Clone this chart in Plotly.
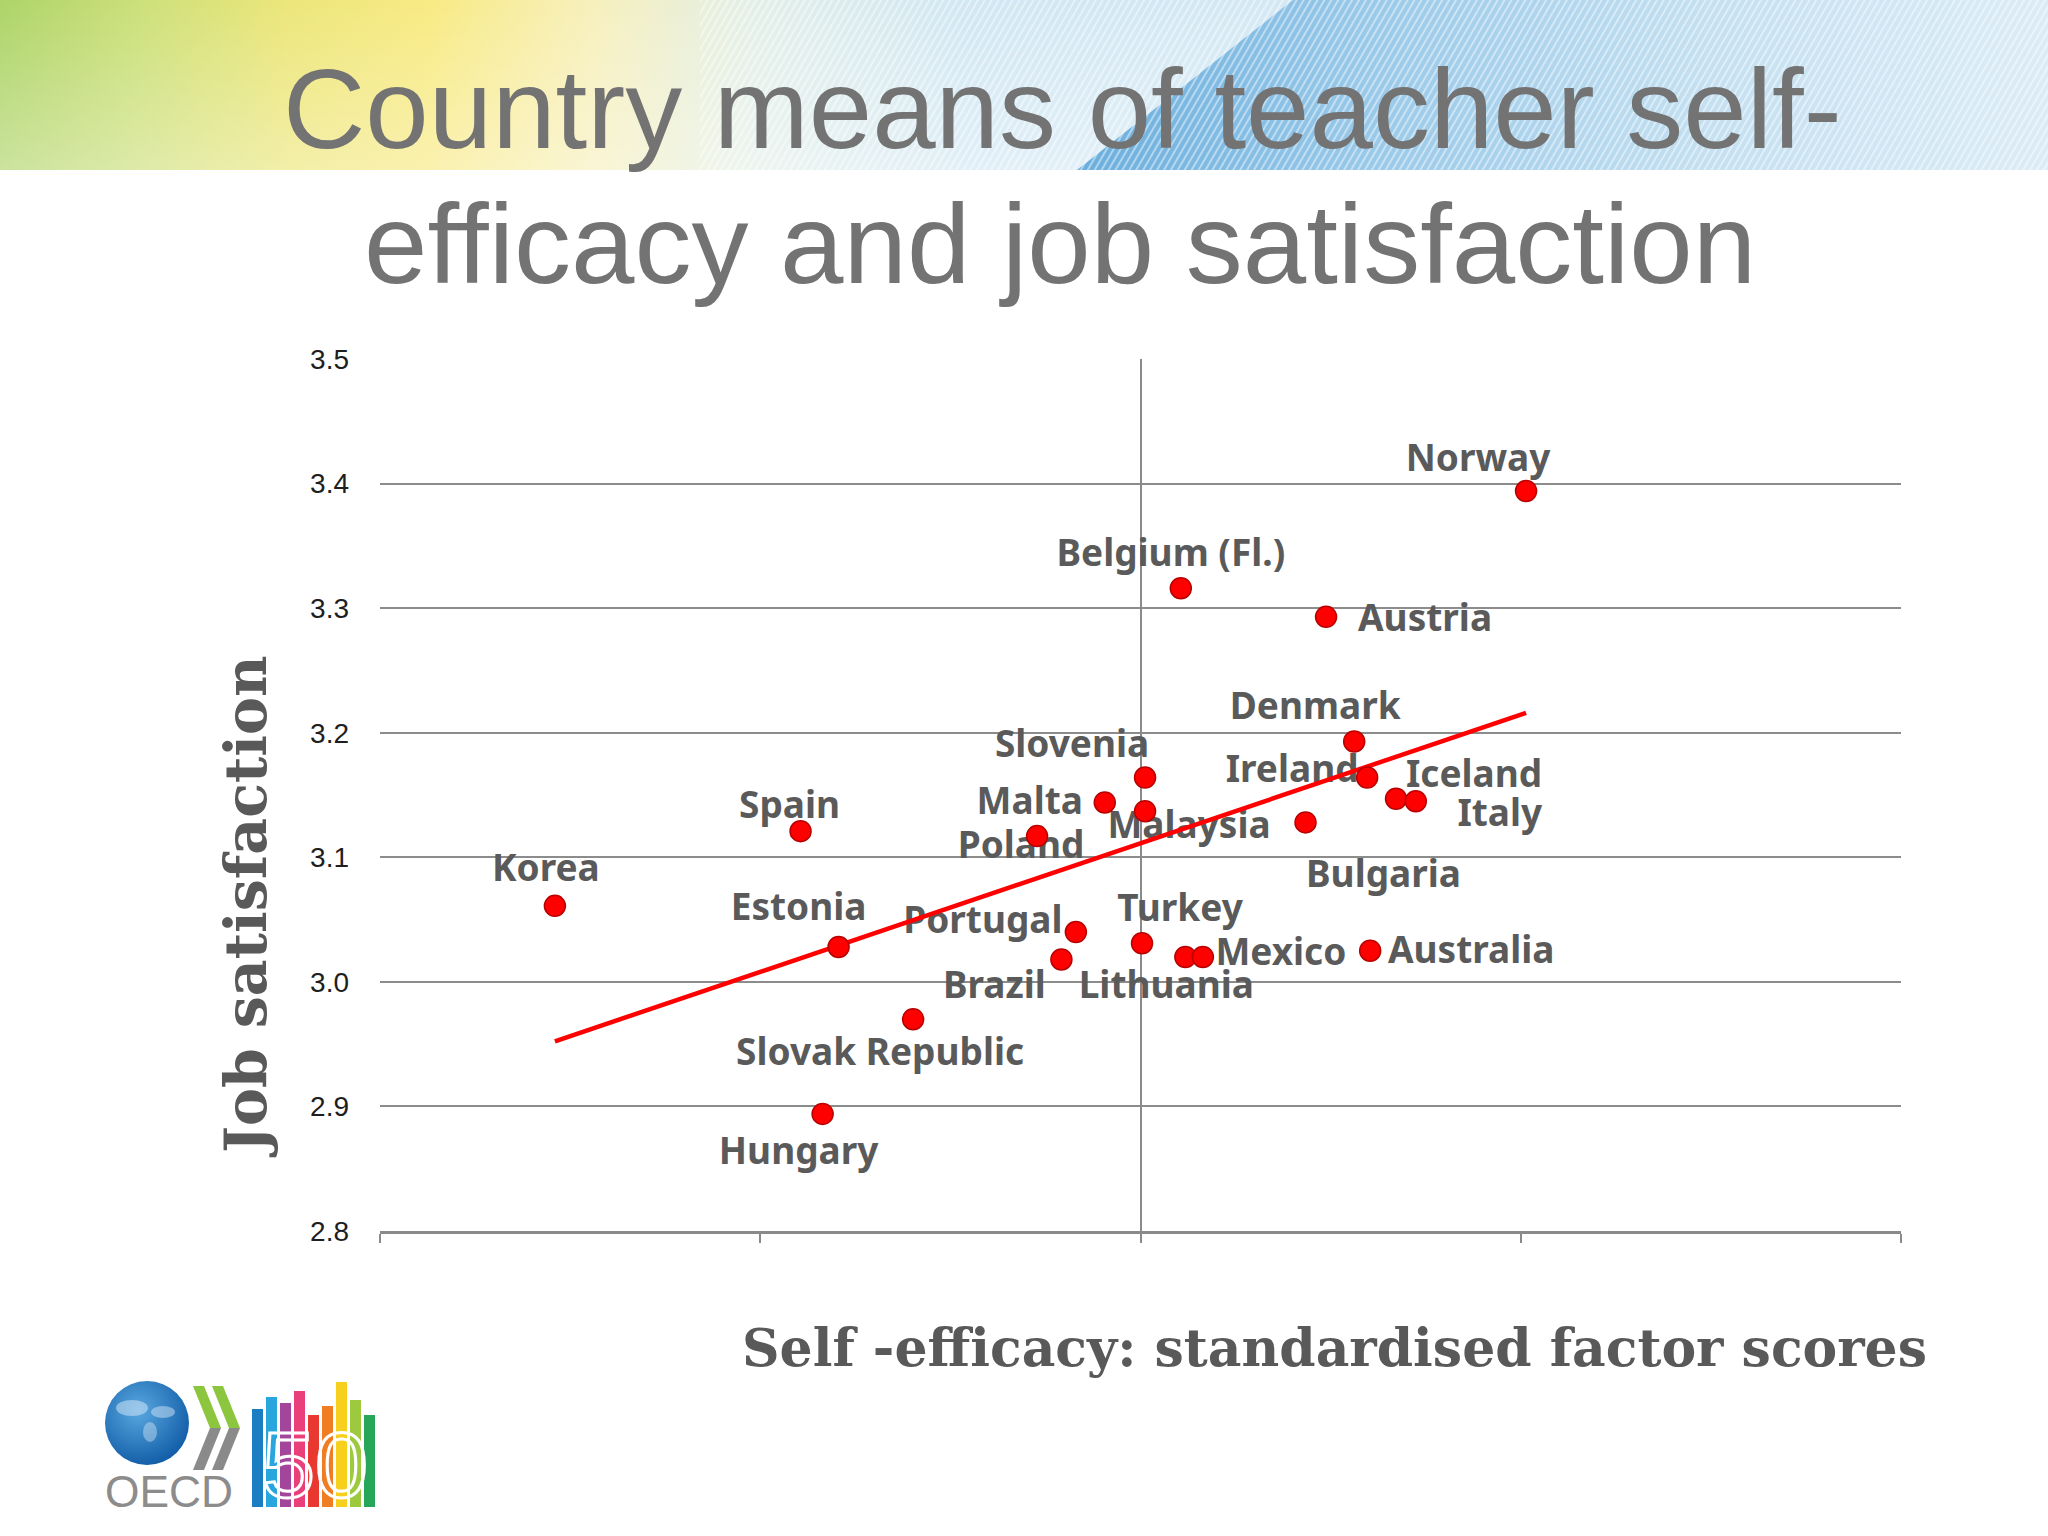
import base64
import numpy as np
import plotly.graph_objects as go

# ---------------- data ----------------
countries = ["Korea", "Spain", "Estonia", "Hungary", "Slovak Republic", "Brazil",
             "Portugal", "Poland", "Malta", "Slovenia", "Malaysia", "Turkey",
             "Lithuania", "Mexico", "Belgium (Fl.)", "Austria", "Norway", "Denmark",
             "Ireland", "Iceland", "Italy", "Bulgaria", "Australia"]
self_efficacy = [-0.770, -0.447, -0.397, -0.418, -0.299, -0.104,
                 -0.085, -0.136, -0.047, 0.006, 0.006, 0.002,
                 0.059, 0.082, 0.053, 0.244, 0.507, 0.281,
                 0.298, 0.336, 0.362, 0.217, 0.302]
job_satisfaction = [3.061, 3.121, 3.028, 2.894, 2.970, 3.018,
                    3.040, 3.117, 3.144, 3.164, 3.137, 3.031,
                    3.020, 3.020, 3.316, 3.293, 3.394, 3.193,
                    3.164, 3.147, 3.145, 3.128, 3.025]
y_tick_values = [2.8, 2.9, 3.0, 3.1, 3.2, 3.3, 3.4, 3.5]
x_tick_values = [-1.0, -0.5, 0.0, 0.5, 1.0]

title_line1 = "Country means of teacher self-"
title_line2 = "efficacy and job satisfaction"
y_title = "Job satisfaction"
x_title = "Self -efficacy: standardised factor scores"

# ---------------- layout geometry ----------------
W, H = 2048, 1536
ML, MR, MT, MB = 380, 147, 359, 305
PW, PH = W - ML - MR, H - MT - MB
X_RANGE = [-1.0, 1.0]
Y_RANGE = [2.8, 3.5]
x_per_px = (X_RANGE[1] - X_RANGE[0]) / PW
y_per_px = (Y_RANGE[1] - Y_RANGE[0]) / PH


def px_x(p):
    return (p - ML) / PW


def px_y(p):
    return (H - MB - p) / PH


# label offsets (pixels, right / down) relative to each point
label_offsets = {
    "Norway": (-48, -29), "Belgium (Fl.)": (-10, -31), "Austria": (99, 5),
    "Denmark": (-39, -32), "Slovenia": (-73, -30), "Ireland": (-75, -5),
    "Iceland": (78, -21), "Italy": (84, 16), "Malta": (-75, 2),
    "Malaysia": (44, 18), "Spain": (-11, -22), "Poland": (-16, 13),
    "Bulgaria": (78, 55), "Estonia": (-40, -36), "Portugal": (-93, -8),
    "Turkey": (38, -31), "Mexico": (78, -1), "Australia": (101, 3),
    "Brazil": (-67, 29), "Lithuania": (-19, 32), "Korea": (-9, -34),
    "Slovak Republic": (-33, 37), "Hungary": (-24, 41),
}
lab_x = [x + label_offsets[c][0] * x_per_px for c, x in zip(countries, self_efficacy)]
lab_y = [y - label_offsets[c][1] * y_per_px for c, y in zip(countries, job_satisfaction)]

# trend line (least squares fit, as in the original spreadsheet chart)
xs = np.array(self_efficacy)
ys = np.array(job_satisfaction)
slope, intercept = np.polyfit(xs, ys, 1)
trend_x = [xs.min(), xs.max()]
trend_y = [intercept + slope * v for v in trend_x]

# ---------------- decorative header & logo (SVG) ----------------
header_svg = """<svg xmlns='http://www.w3.org/2000/svg' width='2048' height='170' viewBox='0 0 2048 170' preserveAspectRatio='none'>
<defs>
<linearGradient id='h' x1='0' y1='0' x2='1' y2='0'>
<stop offset='0' stop-color='#aed468'/>
<stop offset='0.07' stop-color='#cde07a'/>
<stop offset='0.14' stop-color='#ece67a'/>
<stop offset='0.21' stop-color='#f8ea84'/>
<stop offset='0.29' stop-color='#f7f0bd'/>
<stop offset='0.37' stop-color='#e2efe9'/>
<stop offset='0.47' stop-color='#d1e7f3'/>
<stop offset='1' stop-color='#dbebf6'/>
</linearGradient>
<linearGradient id='fade' x1='0' y1='0' x2='0' y2='1'>
<stop offset='0' stop-color='#ffffff' stop-opacity='0'/>
<stop offset='1' stop-color='#ffffff' stop-opacity='0.35'/>
</linearGradient>
<linearGradient id='b' x1='0' y1='0' x2='1' y2='0'>
<stop offset='0' stop-color='#6aaedd'/>
<stop offset='0.3' stop-color='#99c9e9'/>
<stop offset='0.65' stop-color='#c4e0f1'/>
<stop offset='1' stop-color='#dcecf6'/>
</linearGradient>
<pattern id='s' width='6' height='6' patternUnits='userSpaceOnUse' patternTransform='rotate(30)'>
<rect x='0' y='0' width='2' height='6' fill='#ffffff' fill-opacity='0.45'/>
</pattern>
</defs>
<rect width='2048' height='170' fill='url(#h)'/>
<rect width='2048' height='170' fill='url(#fade)'/>
<polygon points='1077,170 1293,0 2048,0 2048,170' fill='url(#b)'/>
<rect x='700' y='0' width='1348' height='170' fill='url(#s)'/>
</svg>"""

bar_tops = [1409, 1397, 1403, 1391, 1415, 1406, 1382, 1400, 1415]
bar_cols = ['#1b7dc2', '#2aa6df', '#a2459b', '#e9407c', '#e8382f',
            '#f07d22', '#f6d01d', '#9cc93e', '#27a65a']
bars = "".join(
    f"<rect x='{252 + 14 * i}' y='{t}' width='11' height='{1507 - t}' fill='{c}'/>"
    for i, (t, c) in enumerate(zip(bar_tops, bar_cols)))
logo_svg = f"""<svg xmlns='http://www.w3.org/2000/svg' width='300' height='145' viewBox='90 1370 300 145'>
<defs>
<radialGradient id='g' cx='0.4' cy='0.35' r='0.7'>
<stop offset='0' stop-color='#5aa8e0'/>
<stop offset='1' stop-color='#0f5aa5'/>
</radialGradient>
</defs>
<circle cx='147' cy='1423' r='42' fill='url(#g)'/>
<ellipse cx='132' cy='1408' rx='16' ry='8' fill='#cfe4f5' fill-opacity='0.55'/>
<ellipse cx='163' cy='1412' rx='12' ry='6' fill='#cfe4f5' fill-opacity='0.5'/>
<ellipse cx='150' cy='1432' rx='7' ry='10' fill='#cfe4f5' fill-opacity='0.45'/>
<polygon points='193,1386 204,1386 221,1428 210,1428' fill='#8cc63e'/>
<polygon points='210,1428 221,1428 204,1470 193,1470' fill='#8a8a8a'/>
<polygon points='212,1386 223,1386 240,1428 229,1428' fill='#8cc63e'/>
<polygon points='229,1428 240,1428 223,1470 212,1470' fill='#8a8a8a'/>
<text x='105' y='1507' font-family='Liberation Sans, Arial, sans-serif' font-size='45' fill='#8c8c8c' textLength='128' lengthAdjust='spacingAndGlyphs'>OECD</text>
{bars}
<text x='262' y='1497' font-family='Liberation Sans, Arial, sans-serif' font-size='92' fill='none' stroke='#ffffff' stroke-width='3' textLength='106' lengthAdjust='spacingAndGlyphs'>50</text>
</svg>"""


def svg_uri(s):
    return "data:image/svg+xml;base64," + base64.b64encode(s.encode("utf-8")).decode("ascii")


# ---------------- figure ----------------
fig = go.Figure()

fig.add_trace(go.Scatter(
    x=lab_x, y=lab_y, text=countries, mode="text",
    textposition="middle center",
    textfont=dict(family="Comic Sans MS, Noto Sans, sans-serif", size=37,
                  color="#5a5a5a", weight="bold"),
    hoverinfo="skip", showlegend=False))

fig.add_trace(go.Scatter(
    x=trend_x, y=trend_y, mode="lines",
    line=dict(color="#ff0000", width=4.5),
    hoverinfo="skip", showlegend=False))

fig.add_trace(go.Scatter(
    x=self_efficacy, y=job_satisfaction, mode="markers", text=countries,
    marker=dict(size=21, color="#ff0000", line=dict(color="#b80000", width=1.5)),
    showlegend=False))

fig.update_xaxes(
    range=X_RANGE, tickvals=x_tick_values, showticklabels=False,
    showgrid=False, zeroline=True, zerolinecolor="#8a8a8a", zerolinewidth=2,
    showline=True, linecolor="#8a8a8a", linewidth=2.5,
    ticks="outside", ticklen=9, tickwidth=2, tickcolor="#8a8a8a")

fig.update_yaxes(
    range=Y_RANGE, tickvals=y_tick_values, tickformat=".1f",
    showgrid=True, gridcolor="#8c8c8c", gridwidth=2,
    zeroline=False, showline=False, ticks="", ticklabelstandoff=30,
    tickfont=dict(family="Liberation Sans, Arial, sans-serif", size=28, color="#1e1e1e"))

annotations = [
    dict(text=title_line1, x=px_x(1062), y=px_y(108), xref="paper", yref="paper",
         showarrow=False, xanchor="center", yanchor="middle",
         font=dict(family="Liberation Sans, Arial, sans-serif", size=114, color="#737373")),
    dict(text=title_line2, x=px_x(1060), y=px_y(243), xref="paper", yref="paper",
         showarrow=False, xanchor="center", yanchor="middle",
         font=dict(family="Liberation Sans, Arial, sans-serif", size=114, color="#737373")),
    dict(text=f"<b>{y_title}</b>", x=px_x(245), y=px_y(907), xref="paper", yref="paper",
         showarrow=False, xanchor="center", yanchor="middle", textangle=-90,
         font=dict(family="DejaVu Serif, serif", size=57, color="#595959")),
    dict(text=f"<b>{x_title}</b>", x=px_x(1334), y=px_y(1347), xref="paper", yref="paper",
         showarrow=False, xanchor="center", yanchor="middle",
         font=dict(family="DejaVu Serif, serif", size=52, color="#595959")),
]

images = [
    dict(source=svg_uri(header_svg), xref="paper", yref="paper",
         x=px_x(0), y=px_y(0), sizex=W / PW, sizey=170 / PH,
         xanchor="left", yanchor="top", sizing="stretch", layer="below"),
    dict(source=svg_uri(logo_svg), xref="paper", yref="paper",
         x=px_x(90), y=px_y(1370), sizex=300 / PW, sizey=145 / PH,
         xanchor="left", yanchor="top", sizing="stretch", layer="above"),
]

fig.update_layout(
    width=W, height=H, autosize=False,
    margin=dict(l=ML, r=MR, t=MT, b=MB, pad=0),
    paper_bgcolor="#ffffff", plot_bgcolor="#ffffff",
    annotations=annotations, images=images,
    showlegend=False, hovermode="closest")

fig.write_html("out.html")
